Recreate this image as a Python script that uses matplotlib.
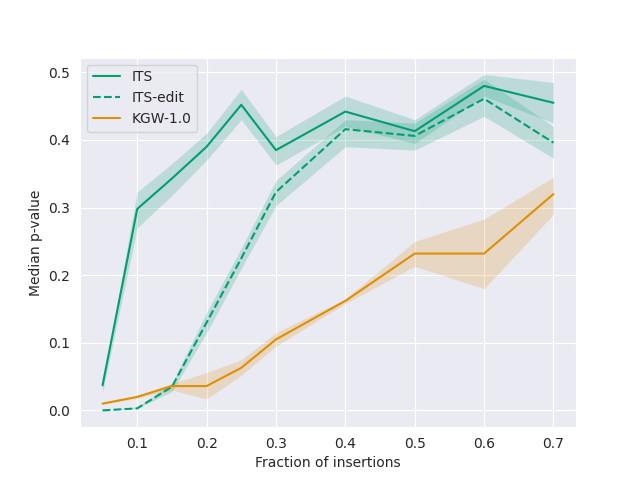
import numpy as np
import matplotlib
matplotlib.use("Agg")
import matplotlib.pyplot as plt
import seaborn as sns

sns.set_style("darkgrid")

fractions = [0.05, 0.1, 0.15, 0.2, 0.25, 0.3, 0.4, 0.5, 0.6, 0.7]

its = [0.037, 0.298, 0.343, 0.390, 0.452, 0.385, 0.442, 0.413, 0.480, 0.455]
its_lo = [0.027, 0.270, 0.318, 0.370, 0.430, 0.363, 0.420, 0.395, 0.465, 0.425]
its_hi = [0.040, 0.323, 0.365, 0.410, 0.475, 0.405, 0.465, 0.430, 0.497, 0.485]

its_edit = [0.000, 0.003, 0.035, 0.130, 0.225, 0.323, 0.416, 0.406, 0.461, 0.396]
its_edit_lo = [0.000, 0.003, 0.028, 0.115, 0.210, 0.303, 0.390, 0.385, 0.435, 0.373]
its_edit_hi = [0.001, 0.005, 0.040, 0.145, 0.240, 0.340, 0.430, 0.425, 0.490, 0.420]

kgw = [0.010, 0.020, 0.036, 0.036, 0.063, 0.105, 0.162, 0.232, 0.232, 0.320]
kgw_lo = [0.009, 0.018, 0.030, 0.017, 0.052, 0.095, 0.158, 0.213, 0.180, 0.290]
kgw_hi = [0.011, 0.022, 0.040, 0.056, 0.075, 0.115, 0.165, 0.250, 0.283, 0.345]

pal = sns.color_palette("colorblind")
green, orange = pal[2], pal[1]

fig, ax = plt.subplots(figsize=(6.4, 4.8), dpi=100)

ax.plot(fractions, its, color=green, label="ITS")
ax.fill_between(fractions, its_lo, its_hi, color=green, alpha=0.2, linewidth=0)
ax.plot(fractions, its_edit, color=green, linestyle="--", label="ITS-edit")
ax.fill_between(fractions, its_edit_lo, its_edit_hi, color=green, alpha=0.2, linewidth=0)
ax.plot(fractions, kgw, color=orange, label="KGW-1.0")
ax.fill_between(fractions, kgw_lo, kgw_hi, color=orange, alpha=0.2, linewidth=0)

ax.set_xlabel("Fraction of insertions")
ax.set_ylabel("Median p-value")
ax.legend(loc="upper left")

fig.savefig("out.png")
